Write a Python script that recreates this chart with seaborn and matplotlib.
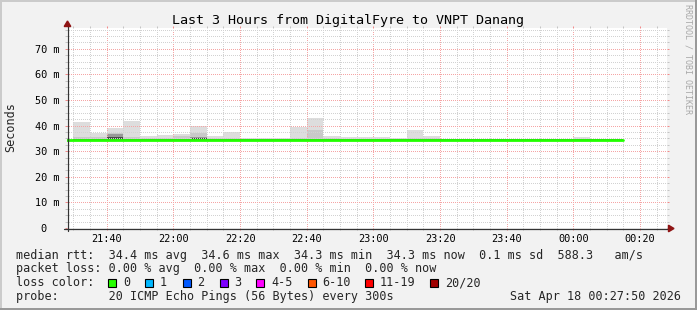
import matplotlib
matplotlib.use("Agg")
import matplotlib.pyplot as plt
import seaborn as sns
import numpy as np
import pandas as pd
from matplotlib.patches import Rectangle, Polygon
from matplotlib.lines import Line2D
from matplotlib.ticker import MultipleLocator, FixedLocator, FixedFormatter

# ---------------- data ----------------
times = ["21:25", "21:30", "21:35", "21:40", "21:45", "21:50", "21:55",
         "22:00", "22:05", "22:10", "22:15", "22:20", "22:25", "22:30", "22:35",
         "22:40", "22:45", "22:50", "22:55", "23:00", "23:05", "23:10", "23:15",
         "23:20", "23:25", "23:30", "23:35", "23:40", "23:45", "23:50", "23:55",
         "00:00", "00:05", "00:10"]
end_time = "00:15"

median_ms = [34.4, 34.4, 34.4, 34.5, 34.4, 34.4, 34.4, 34.4, 34.5, 34.4, 34.4,
             34.4, 34.3, 34.4, 34.4, 34.5, 34.4, 34.4, 34.4, 34.4, 34.3, 34.4,
             34.4, 34.3, 34.3, 34.4, 34.3, 34.3, 34.4, 34.3, 34.3, 34.4, 34.3, 34.3]

smoke_min = [34.2] * 34
smoke_max = [34.6, 41.3, 36.9, 38.9, 41.9, 35.8, 36.3, 36.8, 40.0, 35.9, 37.6,
             35.3, 35.3, 35.2, 39.4, 43.0, 35.9, 35.6, 35.6, 35.4, 35.3, 38.3,
             35.8, 34.9, 34.9, 34.9, 34.9, 34.9, 34.9, 34.9, 34.9, 35.6, 34.9, 34.9]
smoke_q2 = [34.5, 35.5, 35.4, 37.0, 35.5, 35.0, 35.2, 35.9, 37.0, 35.1, 35.2,
            34.9, 34.9, 34.9, 35.3, 38.2, 35.0, 34.9, 34.9, 34.9, 34.9, 35.2,
            35.0, 34.8, 34.8, 34.8, 34.8, 34.8, 34.8, 34.8, 34.8, 34.9, 34.8, 34.8]
smoke_q3 = [34.5, 34.8, 34.8, 36.8, 34.8, 34.7, 34.7, 34.8, 35.4, 34.7, 34.7,
            34.7, 34.7, 34.7, 34.8, 34.9, 34.7, 34.7, 34.7, 34.7, 34.7, 34.7,
            34.7, 34.7, 34.7, 34.7, 34.7, 34.7, 34.7, 34.7, 34.7, 34.7, 34.7, 34.7]
smoke_q4 = [34.5, 34.6, 34.6, 35.5, 34.6, 34.6, 34.6, 34.6, 35.1, 34.6, 34.6,
            34.6, 34.6, 34.6, 34.6, 34.6, 34.6, 34.6, 34.6, 34.6, 34.6, 34.6,
            34.6, 34.6, 34.6, 34.6, 34.6, 34.6, 34.6, 34.6, 34.6, 34.6, 34.6, 34.6]

x_tick_labels = ["21:40", "22:00", "22:20", "22:40", "23:00", "23:20", "23:40", "00:00", "00:20"]
y_tick_values = [0, 10, 20, 30, 40, 50, 60, 70]
y_tick_labels = ["0  ", "10 m", "20 m", "30 m", "40 m", "50 m", "60 m", "70 m"]

title = "Last 3 Hours from DigitalFyre to VNPT Danang"
legend_rtt = "median rtt:  34.4 ms avg  34.6 ms max  34.3 ms min  34.3 ms now  0.1 ms sd  588.3   am/s"
legend_loss = "packet loss: 0.00 % avg  0.00 % max  0.00 % min  0.00 % now"
loss_labels = ["0", "1", "2", "3", "4-5", "6-10", "11-19", "20/20"]
loss_colors = ["#26ff00", "#00b8ff", "#0059ff", "#7e00ff", "#ff00ff", "#ff5500", "#ff0000", "#a10000"]
probe_text = "probe:       20 ICMP Echo Pings (56 Bytes) every 300s"
date_text = "Sat Apr 18 00:27:50 2026"
watermark = "RRDTOOL / TOBI OETIKER"


def to_min(s):
    h, m = map(int, s.split(":"))
    if h < 12:
        h += 24
    return (h - 21) * 60 + m


t = np.array([to_min(s) for s in times], dtype=float)
t_end = to_min(end_time)

# ---------------- layout ----------------
W, H = 697, 310
def fx(x): return x / W
def fy(y): return 1 - y / H

sns.set_style("white")
plt.rcParams["font.family"] = ["DejaVu Sans Mono", "DejaVu Sans"]

fig = plt.figure(figsize=(W / 100, H / 100), dpi=100, facecolor="#f2f2f2")
X0, X1, Y0, Y1 = 67, 667, 228, 28
ax = fig.add_axes([fx(X0), fy(Y0), (X1 - X0) / W, (Y0 - Y1) / H])
ax.set_facecolor("white")

px_per_min = 600 / 180.0
xmin = 40 - (106.7 - X0) / px_per_min
ax.set_xlim(xmin, xmin + 180)
ax.set_ylim(0, (Y0 - Y1) / 2.561)

# smoke layers
layers = [(smoke_max, "#dddddd"), (smoke_q2, "#c9c9c9"), (smoke_q3, "#999999"), (smoke_q4, "#4a4a4a")]
for vals, col in layers:
    hi = np.array(vals)
    lo = np.array(smoke_min)
    ax.bar(t, hi - lo, bottom=lo, width=5, align="edge", color=col,
           linewidth=0, zorder=1)

# median line
df = pd.DataFrame({"t": list(t) + [t_end], "median": median_ms + [median_ms[-1]]})
sns.lineplot(data=df, x="t", y="median", ax=ax, color="#22ff00", linewidth=2.0,
             drawstyle="steps-post", zorder=4, estimator=None)
ax.set_xlabel("")
ax.set_ylabel("")

# grid
major_x = [to_min(s) for s in x_tick_labels]
ax.xaxis.set_major_locator(FixedLocator(major_x))
ax.xaxis.set_major_formatter(FixedFormatter(x_tick_labels))
ax.xaxis.set_minor_locator(MultipleLocator(5))
ax.yaxis.set_major_locator(FixedLocator(y_tick_values))
ax.yaxis.set_major_formatter(FixedFormatter(y_tick_labels))
ax.yaxis.set_minor_locator(MultipleLocator(2.5))

ax.set_axisbelow(False)
ax.grid(which="minor", color="#d2d2d2", linestyle=(0, (1, 1.4)), linewidth=0.72,
        antialiased=False, zorder=2)
ax.grid(which="major", color="#f5a5a5", linestyle=(0, (1, 1.4)), linewidth=0.72,
        antialiased=False, zorder=2)

for s in ax.spines.values():
    s.set_visible(False)

ax.tick_params(axis="both", which="both", direction="out", length=1.44, width=0.72)
ax.tick_params(axis="x", which="major", colors="#f28a8a", labelcolor="black",
               labelsize=7.4, pad=2.9, bottom=True, top=True)
ax.tick_params(axis="x", which="minor", colors="#c4c4c4", bottom=True, top=True)
ax.tick_params(axis="y", which="major", colors="#f28a8a", labelcolor="black",
               labelsize=7.4, pad=3.7, left=True, right=True)
ax.tick_params(axis="y", which="minor", colors="#c4c4c4", left=True, right=True)

# axis lines with arrows
axis_col = "#333333"
fig.add_artist(Line2D([fx(X0 + 0.5), fx(X0 + 0.5)], [fy(231), fy(25)], color=axis_col,
                      linewidth=0.9, transform=fig.transFigure, zorder=5))
fig.add_artist(Line2D([fx(64), fx(669)], [fy(Y0 + 0.5), fy(Y0 + 0.5)], color=axis_col,
                      linewidth=0.9, transform=fig.transFigure, zorder=5))
arrow_col = "#8f1414"
fig.add_artist(Polygon([(fx(X0 + 0.5), fy(21)), (fx(X0 - 2.8), fy(26.5)), (fx(X0 + 3.8), fy(26.5))],
                       closed=True, color=arrow_col, transform=fig.transFigure, zorder=6))
fig.add_artist(Polygon([(fx(674), fy(Y0 + 0.5)), (fx(668.5), fy(Y0 - 2.8)), (fx(668.5), fy(Y0 + 3.8))],
                       closed=True, color=arrow_col, transform=fig.transFigure, zorder=6))

# texts
fig.text(fx(348), fy(24), title, ha="center", va="baseline", fontsize=9.6, color="black")
fig.text(fx(11), fy(127), "Seconds", rotation=90, ha="center", va="center", fontsize=8.5)
fig.text(fx(688), fy(4.5), watermark, rotation=270, ha="center", va="top",
         fontsize=6.0, color="#a8a8a8")

leg_fs = 8.5
fig.text(fx(16), fy(258.6), legend_rtt, ha="left", va="baseline", fontsize=leg_fs)
fig.text(fx(16), fy(272.4), legend_loss, ha="left", va="baseline", fontsize=leg_fs)
fig.text(fx(16), fy(286.4), "loss color:", ha="left", va="baseline", fontsize=leg_fs)
box_x = [108.4, 145.3, 182.7, 219.6, 256.4, 307.6, 365.3, 430.2]
for bx, lab, col in zip(box_x, loss_labels, loss_colors):
    fig.add_artist(Rectangle((fx(bx), fy(286.5)), 8 / W, 8 / H, facecolor=col,
                             edgecolor="black", linewidth=0.8, transform=fig.transFigure))
    fig.text(fx(bx + 14.8), fy(286.4), lab, ha="left", va="baseline", fontsize=leg_fs)
fig.text(fx(16), fy(300.4), probe_text, ha="left", va="baseline", fontsize=leg_fs)
fig.text(fx(680.5), fy(300.4), date_text, ha="right", va="baseline", fontsize=leg_fs)

# 3D frame
fig.add_artist(Rectangle((0, fy(2)), 1, 2 / H, facecolor="#cbcbcb", edgecolor="none",
                         transform=fig.transFigure))
fig.add_artist(Rectangle((0, 0), 2 / W, 1, facecolor="#cbcbcb", edgecolor="none",
                         transform=fig.transFigure))
fig.add_artist(Rectangle((0, 0), 1, 2 / H, facecolor="#999999", edgecolor="none",
                         transform=fig.transFigure))
fig.add_artist(Rectangle((fx(695), 0), 2 / W, 1, facecolor="#999999", edgecolor="none",
                         transform=fig.transFigure))

fig.savefig("out.png", dpi=100, facecolor=fig.get_facecolor())
